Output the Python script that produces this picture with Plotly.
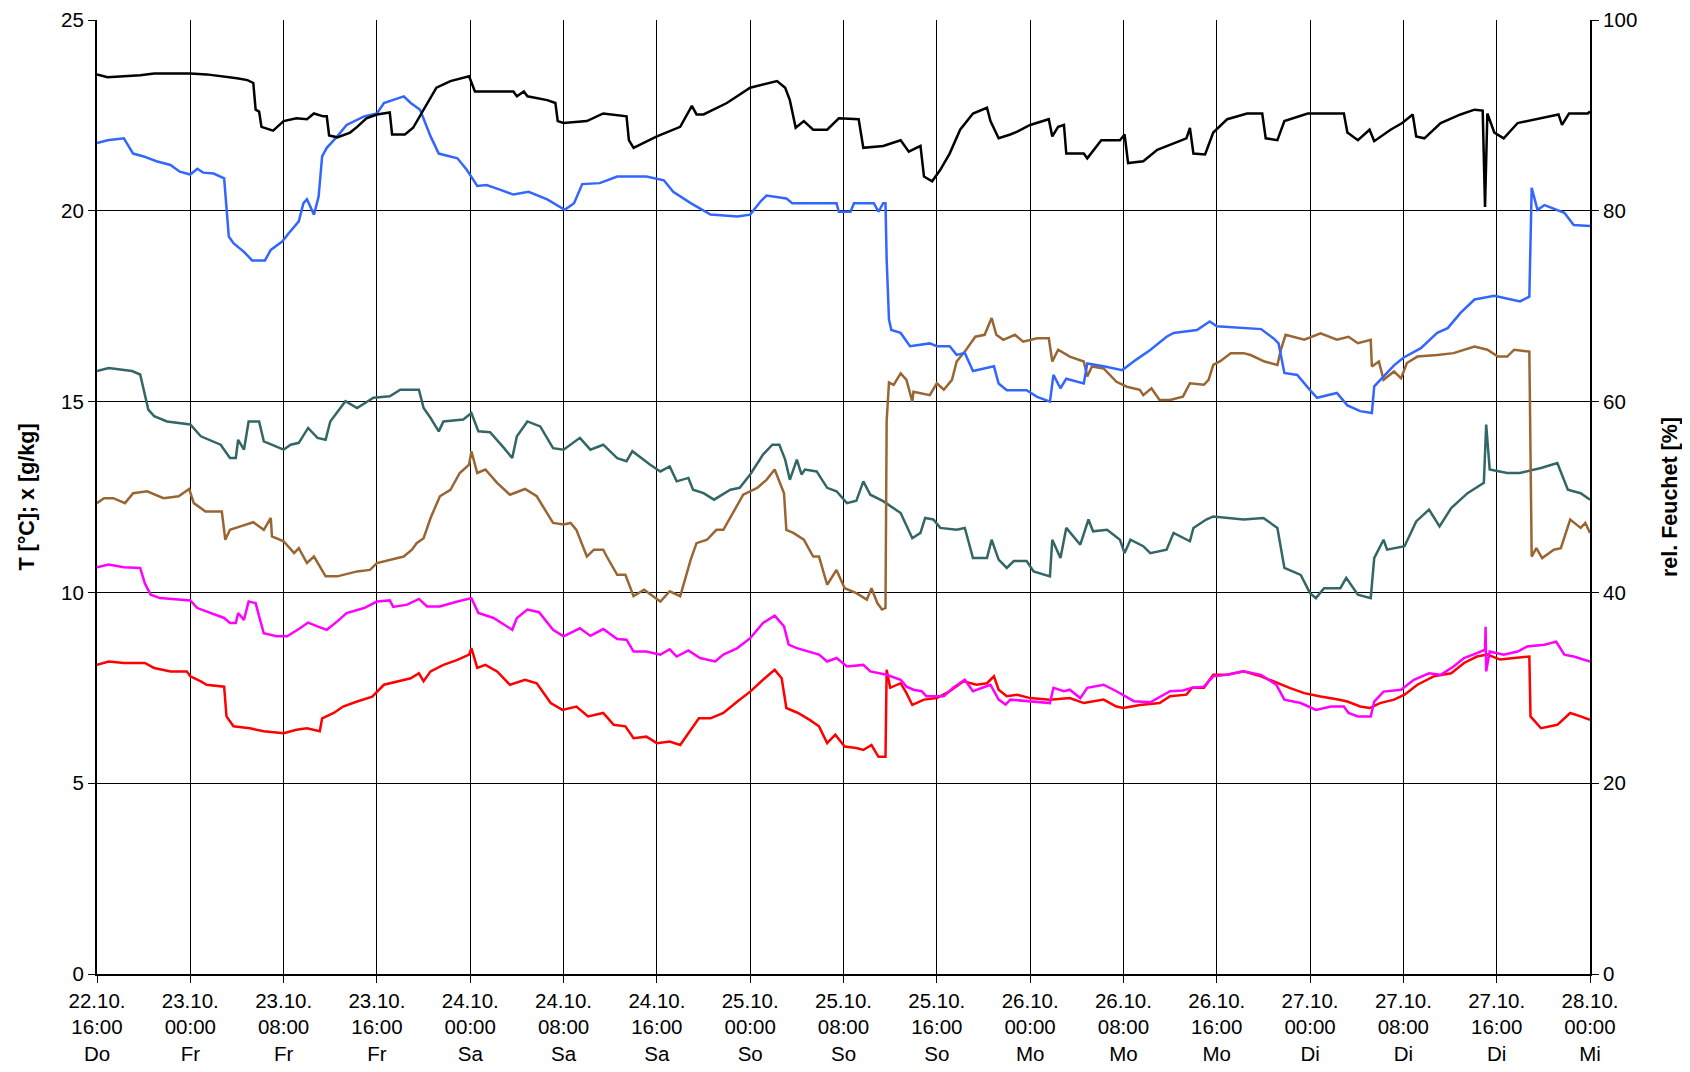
import plotly.graph_objects as go

# x values are hours after 22.10. 16:00
tick_hours = list(range(0, 129, 8))
tick_dates = ["22.10.", "23.10.", "23.10.", "23.10.", "24.10.", "24.10.", "24.10.", "25.10.", "25.10.",
              "25.10.", "26.10.", "26.10.", "26.10.", "27.10.", "27.10.", "27.10.", "28.10."]
tick_times = ["16:00", "00:00", "08:00", "16:00", "00:00", "08:00", "16:00", "00:00", "08:00",
              "16:00", "00:00", "08:00", "16:00", "00:00", "08:00", "16:00", "00:00"]
tick_days = ["Do", "Fr", "Fr", "Fr", "Sa", "Sa", "Sa", "So", "So",
             "So", "Mo", "Mo", "Mo", "Di", "Di", "Di", "Mi"]

# relative humidity [%] (right axis)
rh_black = [(0, 94.3), (0.9, 94.0), (3.7, 94.2), (4.9, 94.4), (8, 94.4), (9.4, 94.3), (12, 93.9), (12.9, 93.7),
            (13.4, 93.4), (13.6, 90.6), (13.9, 90.4), (14.1, 88.8), (15.1, 88.4), (16, 89.4), (17.1, 89.7),
            (18, 89.6), (18.6, 90.2), (19.4, 89.9), (19.7, 89.9), (19.9, 87.9), (20.6, 87.7), (21.7, 88.2),
            (22.3, 88.8), (23.1, 89.7), (24, 90.1), (25.1, 90.3), (25.3, 88.0), (26.4, 88.0), (27.1, 88.7),
            (28, 90.6), (29.1, 92.9), (30.3, 93.6), (31.9, 94.1), (32.4, 92.5), (33.7, 92.5), (35.7, 92.5),
            (36, 92.0), (36.6, 92.5), (36.9, 92.0), (38.6, 91.6), (39.3, 91.3), (39.5, 89.4), (40, 89.2),
            (42, 89.4), (43.4, 90.2), (45.4, 89.9), (45.6, 87.4), (46, 86.6), (48, 87.8), (50, 88.8),
            (51, 91.0), (51.4, 90.1), (52, 90.1), (54, 91.3), (56, 92.9), (58.3, 93.6), (59, 92.9),
            (59.4, 91.6), (59.9, 88.7), (60.6, 89.4), (61.4, 88.5), (62.6, 88.5), (63.6, 89.7), (65.3, 89.6),
            (65.7, 86.6), (67.4, 86.8), (68.9, 87.4), (69.6, 86.2), (70.6, 86.8), (70.9, 83.6), (71.6, 83.1),
            (72.3, 84.3), (73.1, 86.0), (74, 88.5), (75.1, 90.2), (76.3, 90.8), (76.6, 89.4), (77.3, 87.6),
            (78.3, 88.0), (78.9, 88.3), (80, 89.0), (81.6, 89.6), (81.9, 87.8), (82.4, 88.8), (82.9, 89.0),
            (83.1, 86.0), (84.6, 86.0), (84.9, 85.5), (86.1, 87.4), (87.7, 87.4), (88.1, 88.0), (88.4, 85.0),
            (89.7, 85.2), (90.9, 86.4), (93.4, 87.6), (93.7, 88.7), (94, 86.0), (95, 85.9), (95.7, 88.2),
            (96.9, 89.6), (98.6, 90.2), (99.9, 90.2), (100.2, 87.6), (101.2, 87.4), (101.8, 89.4),
            (103.8, 90.2), (106.9, 90.2), (107.2, 88.2), (108.1, 87.4), (109.1, 88.5), (109.5, 87.3),
            (110.9, 88.5), (111.9, 89.2), (112.8, 90.1), (113.1, 87.8), (113.8, 87.6), (115.2, 89.2),
            (116.9, 90.1), (118.1, 90.6), (118.8, 90.5), (119.0, 80.4), (119.2, 90.2), (119.8, 88.2),
            (120.6, 87.6), (121.8, 89.2), (123.8, 89.7), (125.3, 90.1), (125.6, 89.0), (126.2, 90.2),
            (127.8, 90.2), (128, 90.4)]

rh_blue = [(0, 87.1), (0.9, 87.4), (2.3, 87.6), (3.1, 86.0), (4, 85.7), (5.1, 85.2), (6.3, 84.8), (7.1, 84.1),
           (8, 83.8), (8.6, 84.4), (9.1, 84.0), (10, 83.9), (10.9, 83.4), (11.1, 80.1), (11.3, 77.3),
           (11.7, 76.6), (12.6, 75.7), (13.3, 74.8), (14.4, 74.8), (14.9, 75.9), (15.9, 76.8), (16.4, 77.6),
           (17.3, 78.9), (17.7, 80.8), (18, 81.2), (18.6, 79.6), (19, 81.5), (19.3, 85.7), (19.7, 86.6),
           (20.6, 87.8), (21.4, 89.0), (22.9, 89.9), (24, 90.2), (24.6, 91.3), (25.1, 91.5), (26.3, 92.0),
           (26.9, 91.3), (27.7, 90.6), (28.6, 87.8), (29.3, 86.0), (30.9, 85.5), (31.7, 84.3), (32.6, 82.6),
           (33.4, 82.7), (34.6, 82.2), (35.7, 81.7), (37, 82.0), (38.6, 81.2), (40.1, 80.1), (40.9, 80.8),
           (41.6, 82.8), (43.1, 82.9), (44.6, 83.6), (47.1, 83.6), (48.6, 83.2), (49.4, 82.0), (50.9, 80.8),
           (52.6, 79.6), (54.9, 79.4), (56, 79.6), (56.9, 81.0), (57.4, 81.6), (59.1, 81.3), (59.6, 80.8),
           (63.4, 80.8), (63.6, 79.9), (64.6, 79.9), (64.9, 80.8), (66.6, 80.8), (67.0, 79.9), (67.4, 80.8),
           (67.6, 80.8), (67.7, 74.9), (67.9, 68.6), (68.1, 67.5), (68.9, 67.2), (69.7, 65.8), (71.4, 66.1),
           (72, 65.8), (73.1, 65.8), (73.7, 64.9), (74.4, 65.1), (75.1, 63.2), (76.9, 63.7), (77.3, 61.9),
           (78, 61.2), (79.7, 61.2), (80.6, 60.5), (81.7, 60.0), (82, 62.8), (82.6, 61.4), (83.1, 62.4),
           (84.6, 61.9), (84.9, 64.0), (86.3, 63.7), (87.9, 63.3), (89.1, 64.4), (90.3, 65.4), (91.7, 66.8),
           (92.3, 67.2), (94.3, 67.5), (95.4, 68.4), (96, 67.9), (99.8, 67.6), (100.9, 66.6), (101.3, 66.1),
           (101.8, 63.0), (102.9, 62.8), (104, 61.2), (104.6, 60.4), (106.3, 60.9), (107.2, 59.6),
           (108.3, 59.0), (109.3, 58.8), (109.5, 61.6), (110.3, 62.6), (111.2, 63.8), (112, 64.6),
           (113.5, 65.6), (114.9, 67.2), (115.8, 67.7), (116.9, 69.3), (118.1, 70.7), (119.8, 71.1),
           (120.9, 70.8), (122, 70.5), (122.8, 71.0), (123.0, 82.4), (123.5, 80.1), (124.1, 80.6),
           (125.8, 79.8), (126.6, 78.5), (128, 78.4)]

# temperature [°C] / moisture content [g/kg] (left axis)
teal = [(0, 15.8), (1, 15.88), (3, 15.8), (3.7, 15.71), (4.4, 14.79), (4.9, 14.62), (6, 14.48), (8, 14.4),
        (8.9, 14.09), (10.6, 13.87), (11.4, 13.52), (11.9, 13.52), (12.1, 14.0), (12.6, 13.74), (13, 14.48),
        (13.9, 14.48), (14.3, 13.96), (16, 13.74), (16.6, 13.87), (17.3, 13.92), (18.1, 14.31), (18.9, 14.05),
        (19.6, 14.0), (20, 14.48), (21.3, 15.01), (22.3, 14.83), (23.7, 15.1), (25.1, 15.14), (26, 15.31),
        (27.6, 15.31), (28, 14.83), (28.6, 14.57), (29.3, 14.22), (29.7, 14.48), (31.4, 14.53), (32.1, 14.7),
        (32.7, 14.22), (33.7, 14.2), (34.9, 13.78), (35.6, 13.52), (36, 14.09), (36.9, 14.48), (38, 14.35),
        (39.1, 13.78), (40, 13.74), (41.4, 14.05), (42.3, 13.74), (43.4, 13.87), (44.6, 13.52), (45.4, 13.44),
        (45.9, 13.7), (47.4, 13.35), (48.3, 13.17), (49.1, 13.3), (49.7, 12.91), (50.7, 13.0), (51.1, 12.69),
        (52, 12.6), (52.9, 12.43), (54.3, 12.69), (55.1, 12.74), (56, 13.09), (57.1, 13.61), (57.9, 13.87),
        (58.5, 13.87), (59, 13.48), (59.4, 12.95), (60, 13.48), (60.4, 13.09), (60.7, 13.22), (61.7, 13.17),
        (62.6, 12.74), (63.4, 12.65), (64.3, 12.34), (65.1, 12.4), (65.7, 12.91), (66.3, 12.56),
        (67.4, 12.39), (68.9, 12.08), (69.9, 11.42), (70.6, 11.56), (71, 11.95), (71.7, 11.91), (72.3, 11.69),
        (73.7, 11.64), (74.4, 11.69), (75.1, 10.9), (76.3, 10.9), (76.7, 11.38), (77.3, 10.86), (78, 10.64),
        (78.6, 10.82), (79.7, 10.82), (80.3, 10.55), (81.7, 10.42), (81.9, 11.38), (82.6, 10.9),
        (83.1, 11.69), (84.3, 11.25), (85, 11.91), (85.4, 11.6), (86.6, 11.64), (87.7, 11.38), (88.1, 11.03),
        (88.6, 11.38), (89.7, 11.21), (90.3, 11.03), (91.7, 11.12), (92.3, 11.56), (93.7, 11.34),
        (94, 11.69), (95.1, 11.91), (95.7, 11.99), (98.3, 11.91), (100, 11.95), (101.2, 11.69),
        (101.8, 10.64), (103.2, 10.46), (104, 9.98), (104.5, 9.85), (105.2, 10.11), (106.6, 10.11),
        (107.1, 10.38), (108.1, 9.94), (109.2, 9.85), (109.5, 10.9), (110.3, 11.38), (110.6, 11.12),
        (112.1, 11.21), (113.1, 11.86), (114.2, 12.17), (115.1, 11.73), (116.1, 12.21), (117.5, 12.6),
        (118.9, 12.87), (119.1, 14.4), (119.4, 13.22), (120.9, 13.13), (122, 13.13), (123.8, 13.26),
        (125.2, 13.39), (126.1, 12.69), (127.2, 12.6), (128, 12.43)]

brown = [(0, 12.34), (0.6, 12.47), (1.4, 12.47), (2.4, 12.34), (3.1, 12.6), (4.3, 12.65), (5.7, 12.47),
         (7, 12.52), (7.9, 12.71), (8.3, 12.34), (9.3, 12.12), (10.7, 12.12), (11, 11.38), (11.4, 11.64),
         (12.3, 11.73), (13.4, 11.84), (14.3, 11.64), (14.9, 11.95), (15, 11.47), (16, 11.34), (16.9, 11.03),
         (17.3, 11.16), (18, 10.77), (18.6, 10.94), (19.6, 10.42), (20.6, 10.42), (22.3, 10.55), (23.4, 10.59),
         (24, 10.77), (25.1, 10.86), (26.3, 10.94), (27, 11.12), (27.4, 11.29), (28, 11.42), (28.6, 11.95),
         (29.4, 12.52), (30.3, 12.69), (31.1, 13.13), (31.9, 13.35), (32.1, 13.7), (32.6, 13.13),
         (33.3, 13.22), (34.3, 12.87), (35.4, 12.56), (36.7, 12.71), (37.7, 12.52), (38.3, 12.21),
         (39.1, 11.82), (40, 11.78), (40.6, 11.82), (41.1, 11.64), (42, 10.94), (42.6, 11.12), (43.4, 11.12),
         (43.7, 10.94), (44.6, 10.46), (45.3, 10.46), (46, 9.9), (46.9, 10.07), (47.7, 9.9), (48.3, 9.76),
         (49.1, 10.03), (50, 9.9), (50.9, 10.86), (51.4, 11.29), (52.3, 11.38), (53.1, 11.64), (53.7, 11.64),
         (54.6, 12.12), (55.4, 12.56), (56.6, 12.74), (57.4, 12.95), (58.1, 13.22), (58.9, 12.6),
         (59.1, 11.64), (59.7, 11.56), (60.6, 11.38), (61.4, 10.94), (61.9, 10.94), (62.6, 10.2),
         (63.4, 10.59), (64.1, 10.11), (65.1, 9.98), (66, 9.81), (66.4, 10.11), (66.9, 9.72), (67.3, 9.55),
         (67.6, 9.59), (67.7, 14.5), (67.9, 15.5), (68.3, 15.44), (68.9, 15.74), (69.4, 15.57), (69.9, 15.0),
         (70.0, 15.26), (71.4, 15.17), (72, 15.48), (72.6, 15.31), (73.3, 15.57), (73.7, 16.05),
         (74.4, 16.31), (75.3, 16.7), (76.1, 16.75), (76.7, 17.19), (77.1, 16.75), (77.7, 16.62),
         (78.7, 16.75), (79.4, 16.57), (80.6, 16.66), (81.6, 16.66), (81.9, 16.05), (82.4, 16.36),
         (83.4, 16.18), (84.6, 16.05), (84.9, 15.66), (85.3, 15.92), (86.3, 15.87), (87.4, 15.52),
         (88.3, 15.39), (89.4, 15.31), (89.7, 15.17), (90.4, 15.35), (91.1, 15.04), (92, 15.04),
         (93.1, 15.13), (93.7, 15.48), (94.9, 15.44), (95.3, 15.57), (95.7, 15.96), (96.3, 16.06),
         (97.2, 16.27), (98.3, 16.27), (98.9, 16.22), (100.1, 16.05), (101.2, 15.96), (101.5, 16.36),
         (101.9, 16.75), (103.5, 16.62), (104.9, 16.79), (106.3, 16.62), (107.3, 16.7), (108.1, 16.53),
         (109.2, 16.62), (109.3, 15.92), (109.9, 16.05), (110.3, 15.57), (111.2, 15.79), (111.8, 15.61),
         (112.3, 16.01), (113.2, 16.18), (114.9, 16.22), (116.3, 16.27), (118.1, 16.44), (119.2, 16.36),
         (120.1, 16.18), (120.9, 16.18), (121.5, 16.36), (122.8, 16.31), (123.0, 10.94), (123.4, 11.16),
         (123.9, 10.9), (124.9, 11.12), (125.5, 11.16), (126.3, 11.91), (127.2, 11.69), (127.6, 11.82),
         (128, 11.56)]

magenta = [(0, 10.66), (1, 10.73), (2.3, 10.66), (3.7, 10.64), (4.1, 10.24), (4.6, 9.94), (5.4, 9.85),
           (6.9, 9.81), (8, 9.79), (8.6, 9.59), (9.7, 9.46), (10.9, 9.33), (11.4, 9.2), (11.9, 9.2),
           (12.1, 9.46), (12.6, 9.28), (13, 9.76), (13.6, 9.72), (13.9, 9.37), (14.3, 8.93), (15.4, 8.85),
           (16.3, 8.85), (17.4, 9.06), (18.1, 9.21), (18.9, 9.11), (19.7, 9.02), (20.6, 9.24), (21.4, 9.46),
           (22.9, 9.59), (24, 9.76), (25.1, 9.79), (25.4, 9.62), (26.6, 9.68), (27.6, 9.83), (28.3, 9.63),
           (29.4, 9.63), (30.9, 9.76), (32.1, 9.85), (32.7, 9.46), (34, 9.33), (35.6, 9.02), (36, 9.33),
           (36.9, 9.55), (37.9, 9.48), (39.1, 9.02), (40, 8.85), (41.4, 9.06), (42.3, 8.86), (43.4, 9.04),
           (44.6, 8.78), (45.4, 8.76), (46, 8.45), (47.1, 8.45), (48.3, 8.37), (49.1, 8.51), (49.7, 8.32),
           (50.7, 8.48), (51.7, 8.28), (53, 8.19), (53.7, 8.37), (54.9, 8.54), (56, 8.8), (57.1, 9.2),
           (58.1, 9.39), (58.9, 9.11), (59.3, 8.63), (60, 8.54), (61.1, 8.45), (61.9, 8.37), (62.6, 8.19),
           (63.4, 8.28), (64.3, 8.06), (65.7, 8.1), (66.3, 7.93), (67.7, 7.84), (68.9, 7.71), (69.4, 7.53),
           (70, 7.45), (70.7, 7.41), (71.1, 7.28), (72.6, 7.28), (73.4, 7.5), (74.4, 7.71), (75.1, 7.41),
           (76.6, 7.58), (77.3, 7.19), (77.9, 7.06), (78.3, 7.19), (80, 7.15), (81.7, 7.1), (82, 7.5),
           (82.9, 7.41), (83.4, 7.45), (84.3, 7.23), (84.9, 7.5), (86.3, 7.58), (87.4, 7.41), (88.9, 7.15),
           (90.3, 7.12), (92, 7.41), (93.1, 7.43), (93.9, 7.5), (94.9, 7.53), (95.7, 7.8), (96.9, 7.84),
           (98.3, 7.93), (99.8, 7.84), (101.1, 7.58), (101.8, 7.19), (103.2, 7.1), (104.5, 6.92),
           (105.8, 7.01), (106.9, 7.01), (107.3, 6.84), (108.1, 6.75), (109.2, 6.75), (109.5, 7.14),
           (110.3, 7.4), (111.8, 7.45), (112.9, 7.71), (114.2, 7.88), (115.2, 7.84), (116.3, 8.06),
           (117.2, 8.28), (118.3, 8.41), (119.0, 8.5), (119.05, 9.1), (119.1, 7.93), (119.4, 8.45),
           (120.6, 8.37), (121.8, 8.45), (122.6, 8.58), (124.1, 8.63), (125.1, 8.71), (125.8, 8.37),
           (126.6, 8.32), (128, 8.19)]

red = [(0, 8.1), (1, 8.19), (2.3, 8.15), (4.1, 8.15), (4.9, 8.02), (6.3, 7.93), (7.7, 7.93), (8, 7.8),
       (8.9, 7.67), (9.4, 7.58), (10.9, 7.53), (11.1, 6.75), (11.7, 6.49), (13.1, 6.44), (14.3, 6.36),
       (16, 6.31), (17.1, 6.4), (18, 6.44), (19.1, 6.36), (19.3, 6.7), (20.3, 6.84), (21.1, 7.01),
       (22.3, 7.14), (23.6, 7.27), (24.6, 7.58), (25.7, 7.67), (26.9, 7.75), (27.6, 7.88), (28, 7.67),
       (28.6, 7.93), (29.7, 8.1), (30.9, 8.23), (31.9, 8.37), (32.1, 8.54), (32.6, 8.02), (33.3, 8.1),
       (34.3, 7.93), (35.4, 7.58), (36.7, 7.71), (37.7, 7.62), (38.9, 7.1), (39.9, 6.92), (41.1, 7.01),
       (42.1, 6.75), (43.4, 6.84), (44.3, 6.53), (45.3, 6.49), (46, 6.18), (47.1, 6.22), (48, 6.05),
       (49.1, 6.09), (50, 6.0), (50.9, 6.4), (51.6, 6.7), (52.6, 6.7), (53.7, 6.84), (54.9, 7.14), (56, 7.4),
       (57.1, 7.71), (58.1, 7.97), (58.7, 7.75), (59.1, 6.97), (60.1, 6.84), (61.1, 6.66), (61.9, 6.49),
       (62.6, 6.05), (63.3, 6.27), (64.1, 5.96), (65.1, 5.92), (65.7, 5.87), (66.4, 6.0), (67, 5.69),
       (67.6, 5.69), (67.7, 7.97), (68, 7.5), (68.9, 7.62), (69.4, 7.36), (69.9, 7.05), (70.9, 7.19),
       (72, 7.23), (73.1, 7.41), (74.3, 7.67), (75.4, 7.58), (76.3, 7.62), (76.9, 7.8), (77.3, 7.45),
       (78, 7.28), (78.9, 7.32), (80, 7.23), (81.7, 7.19), (83.4, 7.23), (84.6, 7.1), (86.3, 7.19),
       (87.4, 7.01), (88, 6.97), (89.4, 7.05), (91.1, 7.1), (92, 7.28), (93.4, 7.32), (93.9, 7.5),
       (94.9, 7.5), (95.7, 7.84), (96.9, 7.84), (98.3, 7.93), (99.8, 7.8), (101.2, 7.62), (102.3, 7.49),
       (103.5, 7.36), (104.9, 7.27), (106.3, 7.2), (107.2, 7.14), (108.3, 7.01), (109.1, 6.97), (110, 7.1),
       (111.2, 7.19), (112.1, 7.32), (113.2, 7.58), (114.6, 7.8), (116.1, 7.88), (117.2, 8.15),
       (118.3, 8.32), (119.2, 8.37), (120.3, 8.24), (121.5, 8.28), (122.8, 8.32), (122.9, 6.75),
       (123.8, 6.44), (125.2, 6.53), (126.3, 6.84), (127.2, 6.75), (128, 6.66)]

FONT = "Liberation Sans, Arial, sans-serif"


def _line(pairs, color, yaxis="y"):
    xs, ys = zip(*pairs)
    return go.Scatter(x=xs, y=ys, mode="lines", yaxis=yaxis,
                      line=dict(color=color, width=2.5), hoverinfo="x+y")


fig = go.Figure()
fig.add_trace(_line(teal, "#336666"))
fig.add_trace(_line(brown, "#996633"))
fig.add_trace(_line(red, "#FF0000"))
fig.add_trace(_line(magenta, "#FF00FF"))
fig.add_trace(_line(rh_blue, "#3366FF", "y2"))
fig.add_trace(_line(rh_black, "#000000", "y2"))

ticktext = [f"{d}<br>{t}<br>{w}" for d, t, w in zip(tick_dates, tick_times, tick_days)]

axis_common = dict(zeroline=False, showline=True, linecolor="black", linewidth=2, automargin=False,
                   ticks="outside", ticklen=7, tickcolor="black", tickwidth=1)

# page body has an 8px margin, so the figure is sized to fit inside it
fig.update_layout(
    width=1674, height=1056,
    margin=dict(l=89, r=92, t=12, b=90),
    paper_bgcolor="white", plot_bgcolor="white",
    font=dict(family=FONT, size=20.5, color="black"),
    showlegend=False,
    xaxis=dict(range=[0, 128], tickvals=tick_hours, ticktext=ticktext,
               showgrid=True, gridcolor="black", gridwidth=1, **axis_common),
    yaxis=dict(range=[0, 25], dtick=5, showgrid=True, gridcolor="black", gridwidth=1,
               title=dict(text="<b>T [°C]; x [g/kg]</b>", standoff=21, font=dict(size=21.5)),
               **axis_common),
    yaxis2=dict(range=[0, 100], dtick=20, overlaying="y", side="right", showgrid=False,
                title=dict(text="<b>rel. Feuchet [%]</b>", standoff=27, font=dict(size=21.5)),
                **axis_common),
)

fig.write_html("out.html")
